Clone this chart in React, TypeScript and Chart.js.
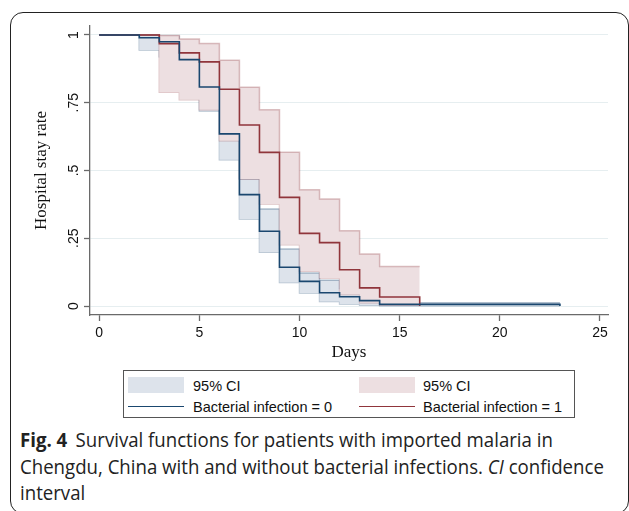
import React, { useEffect, useRef, useState } from "react";
import { Chart, registerables } from "chart.js";

Chart.register(...registerables);

// ---- Data ----
const xTicks = [0, 5, 10, 15, 20, 25];
const yTicks = [0, 0.25, 0.5, 0.75, 1];
const yTickLabels = ["0", ".25", ".5", ".75", "1"];

// Bacterial infection = 0 (Kaplan–Meier step function)
const days0 = [0, 2, 3, 4, 5, 6, 7, 8, 9, 10, 11, 12, 13, 14, 23];
const surv0 = [1, 0.99, 0.975, 0.909, 0.808, 0.635, 0.411, 0.276, 0.143, 0.091, 0.049, 0.034, 0.02, 0.006, 0];
const ciDays0 = [0, 2, 3, 4, 5, 6, 7, 8, 9, 10, 11, 12, 13, 14, 23];
const upper0 = [1, 1.0, 0.995, 0.96, 0.88, 0.72, 0.47, 0.358, 0.21, 0.122, 0.095, 0.065, 0.045, 0.012, 0.012];
const lower0 = [1, 0.945, 0.92, 0.84, 0.72, 0.54, 0.321, 0.198, 0.087, 0.048, 0.017, 0.007, 0.003, 0.001, 0.001];

// Bacterial infection = 1
const days1 = [0, 3, 4, 5, 6, 7, 8, 9, 10, 11, 12, 13, 14, 16];
const surv1 = [1, 0.968, 0.934, 0.901, 0.8, 0.668, 0.567, 0.401, 0.268, 0.234, 0.134, 0.067, 0.033, 0];
const ciDays1 = [0, 3, 4, 5, 6, 7, 8, 9, 10, 11, 12, 13, 14, 16];
const upper1 = [1, 0.998, 0.985, 0.969, 0.907, 0.807, 0.724, 0.567, 0.429, 0.395, 0.278, 0.192, 0.146, 0.146];
const lower1 = [1, 0.789, 0.761, 0.724, 0.61, 0.469, 0.376, 0.226, 0.128, 0.103, 0.042, 0.012, 0.003, 0.003];

const legendCI = "95% CI";
const seriesNames = ["Bacterial infection = 0", "Bacterial infection = 1"];

// ---- Styles ----
const BLUE = "#1a476f";
const RED = "#90353b";
const BLUE_FILL = "#dde3eb";
const RED_FILL = "#eddfe1";
const BLUE_EDGE = "rgba(26,71,111,0.33)";
const RED_EDGE = "rgba(144,53,59,0.30)";

const pts = (xs: number[], ys: number[]) => xs.map((x, i) => ({ x, y: ys[i] }));

export default function App() {
  const canvasRef = useRef<HTMLCanvasElement | null>(null);
  const line2Ref = useRef<HTMLSpanElement | null>(null);
  const [capScale, setCapScale] = useState(0.83);

  useEffect(() => {
    const fit = () => {
      if (line2Ref.current) {
        const w = line2Ref.current.offsetWidth;
        if (w > 0) setCapScale(584 / w);
      }
    };
    fit();
    if ((document as any).fonts && (document as any).fonts.ready) {
      (document as any).fonts.ready.then(fit);
    }
  }, []);

  useEffect(() => {
    if (!canvasRef.current) return;
    const line = (data: any[], color: string, width: number, extra: any = {}) => ({
      data,
      borderColor: color,
      borderWidth: width,
      pointRadius: 0,
      stepped: "before",
      fill: false,
      ...extra,
    });
    const chart = new Chart(canvasRef.current, {
      type: "line",
      data: {
        datasets: [
          line(pts(days0, surv0), BLUE, 1.6),
          line(pts(days1, surv1), RED, 1.6),
          line(pts(ciDays1, upper1), RED_EDGE, 1.5, { fill: "+1", backgroundColor: RED_FILL }),
          line(pts(ciDays1, lower1), RED_EDGE, 1.5),
          line(pts(ciDays0, upper0), BLUE_EDGE, 1.5, { fill: "+1", backgroundColor: BLUE_FILL }),
          line(pts(ciDays0, lower0), BLUE_EDGE, 1.5),
        ] as any,
      },
      options: {
        animation: false,
        responsive: false,
        maintainAspectRatio: false,
        layout: { padding: { top: 26, right: 21, left: 0, bottom: 0 } },
        plugins: { legend: { display: false }, tooltip: { enabled: false } },
        scales: {
          x: {
            type: "linear",
            min: -0.46,
            max: 25.4,
            afterBuildTicks: (s: any) => {
              s.ticks = xTicks.map((v) => ({ value: v }));
            },
            afterFit: (s: any) => {
              s.height = 50;
            },
            ticks: {
              autoSkip: false,
              maxRotation: 0,
              minRotation: 0,
              padding: 4,
              color: "#111",
              font: { family: "Liberation Sans", size: 14 },
            },
            grid: {
              drawOnChartArea: false,
              tickLength: 6,
              tickColor: "#6a6a6a",
              tickWidth: 1.3,
            },
            border: { color: "#6a6a6a", width: 1.3 },
            title: {
              display: true,
              text: "Days",
              color: "#111",
              font: { family: "Liberation Serif", size: 17 },
              padding: { top: 0, bottom: 2 },
            },
          },
          y: {
            type: "linear",
            min: -0.0332,
            max: 1.0332,
            afterBuildTicks: (s: any) => {
              s.ticks = yTicks.map((v) => ({ value: v }));
            },
            afterFit: (s: any) => {
              s.width = 90;
            },
            ticks: {
              autoSkip: false,
              minRotation: 90,
              maxRotation: 90,
              crossAlign: "center",
              padding: 0.5,
              color: "#111",
              font: { family: "Liberation Sans", size: 14 },
              callback: (_v: any, i: number) => yTickLabels[i],
            },
            grid: {
              color: "#e6eef0",
              lineWidth: 1,
              tickLength: 6,
              tickColor: "#6a6a6a",
              tickWidth: 1.3,
            },
            border: { color: "#6a6a6a", width: 1.3 },
            title: {
              display: true,
              text: "Hospital stay rate",
              color: "#111",
              font: { family: "Liberation Serif", size: 17 },
              padding: { top: 31.5, bottom: 0 },
            },
          },
        },
      } as any,
    });
    return () => chart.destroy();
  }, []);

  const legText: React.CSSProperties = {
    position: "absolute",
    fontFamily: "Liberation Sans, Arial, sans-serif",
    fontSize: 14.5,
    color: "#111",
    lineHeight: "18px",
    whiteSpace: "nowrap",
  };

  return (
    <div
      style={{
        position: "absolute",
        left: 0,
        top: 0,
        width: 629,
        height: 511,
        overflow: "hidden",
        background: "#fff",
      }}
    >
      <div
        style={{
          position: "absolute",
          left: 10,
          top: 12,
          width: 619,
          height: 502,
          border: "1.3px solid #222",
          borderRadius: 13,
          boxSizing: "border-box",
        }}
      />
      <canvas
        ref={canvasRef}
        width={629}
        height={365}
        style={{ position: "absolute", left: 0, top: 0, width: 629, height: 365 }}
      />
      {/* Legend */}
      <div
        style={{
          position: "absolute",
          left: 123,
          top: 370,
          width: 452,
          height: 48,
          border: "1px solid #555",
          boxSizing: "border-box",
        }}
      />
      <div style={{ position: "absolute", left: 128, top: 377, width: 56, height: 16, background: BLUE_FILL }} />
      <div style={{ position: "absolute", left: 359, top: 377, width: 56, height: 16, background: RED_FILL }} />
      <div style={{ position: "absolute", left: 128, top: 405.5, width: 56, height: 1.4, background: BLUE }} />
      <div style={{ position: "absolute", left: 359, top: 405.5, width: 56, height: 1.4, background: RED }} />
      <div style={{ ...legText, left: 193, top: 377 }}>{legendCI}</div>
      <div style={{ ...legText, left: 423, top: 377 }}>{legendCI}</div>
      <div style={{ ...legText, left: 193, top: 397.5 }}>{seriesNames[0]}</div>
      <div style={{ ...legText, left: 423, top: 397.5 }}>{seriesNames[1]}</div>
      {/* Caption */}
      <div
        style={{
          position: "absolute",
          left: 20,
          top: 427,
          fontFamily: "'Open Sans', 'Noto Sans', sans-serif",
          fontSize: 20,
          lineHeight: "26.5px",
          color: "#222",
          whiteSpace: "nowrap",
          transform: `scaleX(${capScale})`,
          transformOrigin: "left top",
        }}
      >
        <div>
          <span style={{ fontWeight: 700 }}>Fig. 4</span>
          <span style={{ marginLeft: 9 }}>Survival functions for patients with imported malaria in</span>
        </div>
        <div>
          <span ref={line2Ref}>
            Chengdu, China with and without bacterial infections. <i>CI</i> confidence
          </span>
        </div>
        <div>interval</div>
      </div>
    </div>
  );
}
